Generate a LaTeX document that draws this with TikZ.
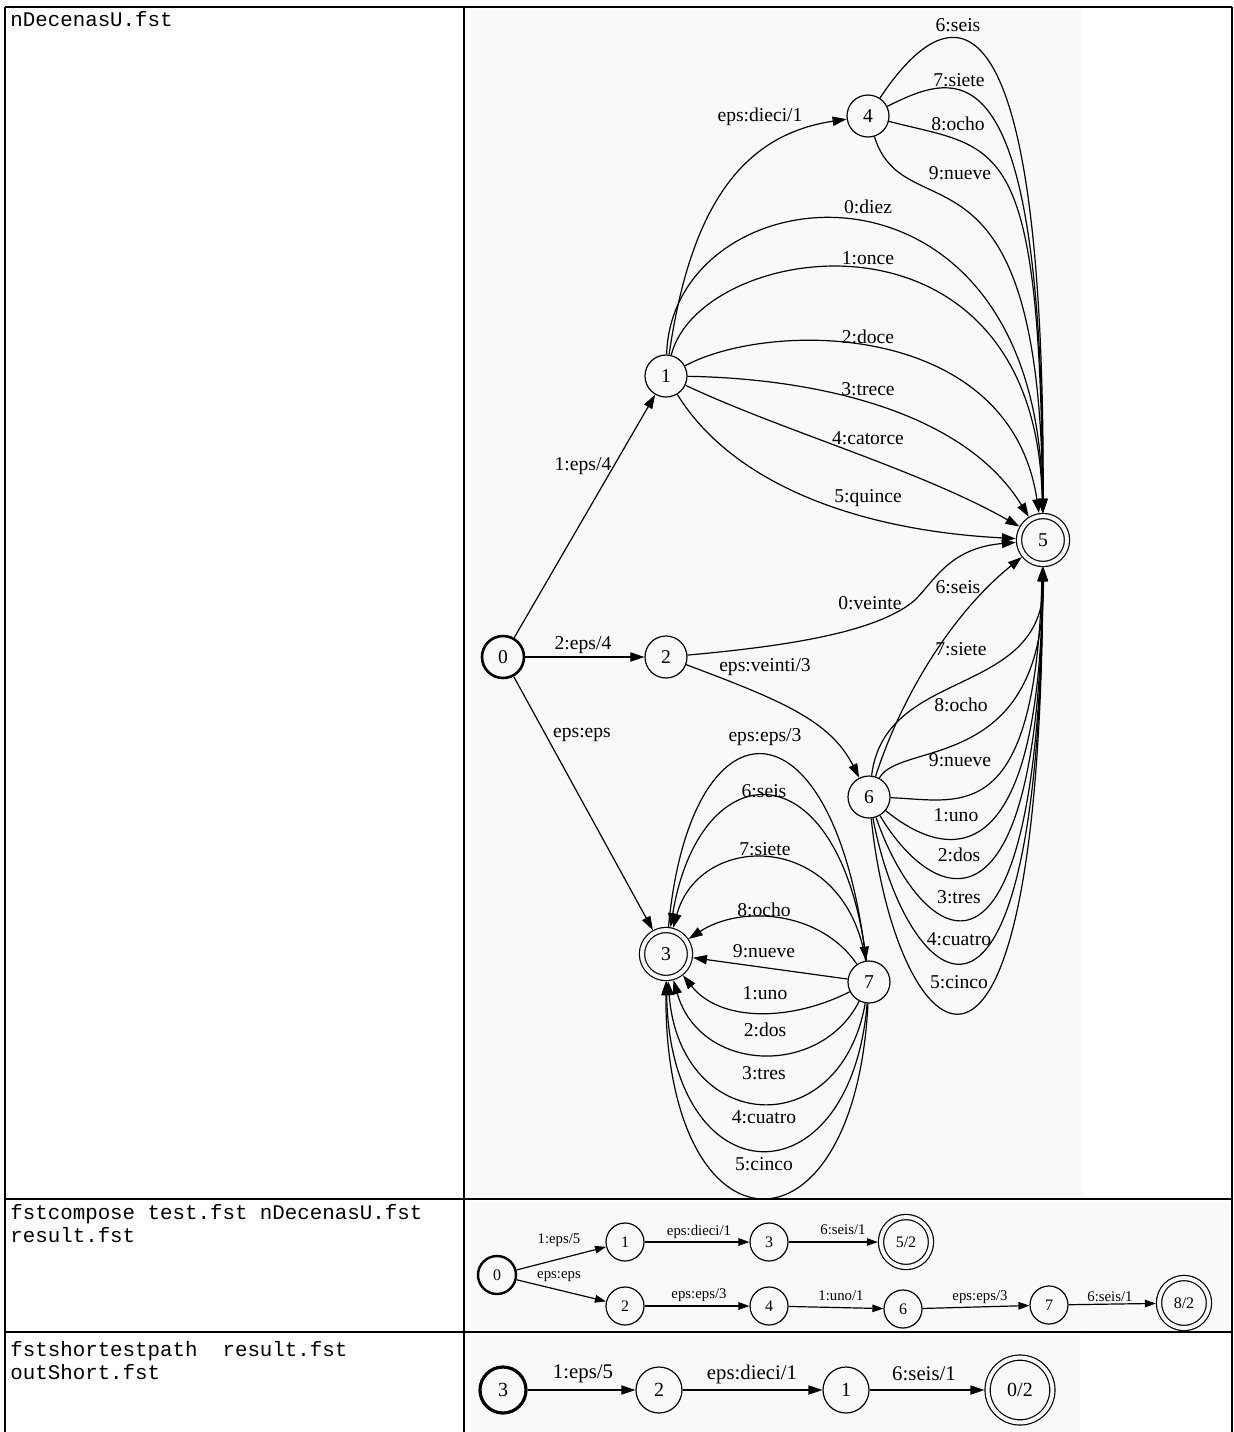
\documentclass[tikz,border=0pt]{standalone}
\usepackage{fontspec}
\setmainfont{Liberation Serif}
\setmonofont{Liberation Mono}
\usetikzlibrary{arrows.meta}

\definecolor{imgbg}{RGB}{248,250,248}

\tikzset{
  state/.style={circle, draw, line width=0.6pt, minimum size=21pt, inner sep=0pt, font=\fontsize{9.8}{10}\selectfont},
  start/.style={state, line width=1.3pt},
  accept/.style={state, double=imgbg, double distance=2pt, minimum size=24pt, outer sep=1.6pt},
  edge/.style={-{Triangle[length=7pt,width=4.6pt]}, line width=0.6pt},
  lab/.style={inner sep=0pt, font=\fontsize{9.8}{10}\selectfont},
  cmd/.style={anchor=base west, inner sep=0pt, font=\fontsize{10.4}{11.5}\selectfont\ttfamily},
}

\begin{document}
\begin{tikzpicture}[x=0.5pt, y=-0.5pt]
        \useasboundingbox (0,0) rectangle (1234,1432);

        % picture panels
        \fill [imgbg] (471,10) rectangle (1082,1196);
        \fill [imgbg] (471,1202) rectangle (1229,1330);
        \fill [imgbg] (471,1335) rectangle (1080,1432);

        % table
        \draw [line width=1pt] (5,7) -- (1232,7);
        \draw [line width=1pt] (5,1199) -- (1232,1199);
        \draw [line width=1pt] (5,1332) -- (1232,1332);
        \draw [line width=1pt] (5,7) -- (5,1432);
        \draw [line width=1pt] (1232,7) -- (1232,1432);
        \draw [line width=0.6pt] (464,7) -- (464,1432);

        \node [cmd] (f1) at (10,26) {nDecenasU.fst};
        \node [cmd] (f2) at (10,1219) {fstcompose test.fst nDecenasU.fst};
        \node [cmd] (f3) at (10,1242) {result.fst};
        \node [cmd] (f4) at (10,1356) {fstshortestpath\ \ result.fst};
        \node [cmd] (f5) at (10,1379) {outShort.fst};

        % nDecenasU.fst
        \node [start]  (a0) at (503,657) {0};
        \node [state]  (a1) at (666,376) {1};
        \node [state]  (a2) at (666,657) {2};
        \node [accept] (a3) at (666,954) {3};
        \node [state]  (a4) at (868,116) {4};
        \node [accept] (a5) at (1043,540) {5};
        \node [state]  (a6) at (869,797) {6};
        \node [state]  (a7) at (869,982) {7};

        \draw [edge] (a0) -- (a1);
        \draw [edge] (a0) -- (a2);
        \draw [edge] (a0) -- (a3);
        \draw [edge] (a1) .. controls (690,210) and (740,135) .. (a4);
        \draw [edge] (a1) .. controls (672,170) and (1038,130) .. (a5);
        \draw [edge] (a1) .. controls (700,240) and (1036,190) .. (a5);
        \draw [edge] (a1) .. controls (770,320) and (1010,320) .. (a5);
        \draw [edge] (a1) .. controls (800,378) and (960,405) .. (a5);
        \draw [edge] (a1) .. controls (780,430) and (920,470) .. (a5);
        \draw [edge] (a1) .. controls (730,480) and (850,530) .. (a5);
        \draw [edge] (a4) .. controls (955,-15) and (1045,-15) .. (a5);
        \draw [edge] (a4) .. controls (960,70) and (1043,40) .. (a5);
        \draw [edge] (a4) .. controls (1000,150) and (1040,130) .. (a5);
        \draw [edge] (a4) .. controls (905,235) and (1040,120) .. (a5);
        \draw [edge] (a2) .. controls (800,645) and (880,630) .. (915,600)
                          .. controls (935,580) and (950,548) .. (a5);
        \draw [edge] (a2) .. controls (780,700) and (830,720) .. (a6);
        \draw [edge] (a6) .. controls (900,700) and (950,615) .. (a5);
        \draw [edge] (a6) .. controls (885,665) and (1045,700) .. (a5);
        \draw [edge] (a6) .. controls (900,740) and (1045,775) .. (a5);
        \draw [edge] (a6) .. controls (960,800) and (1035,830) .. (a5);
        \draw [edge] (a6) .. controls (940,855) and (1040,890) .. (a5);
        \draw [edge] (a6) .. controls (930,900) and (1040,960) .. (a5);
        \draw [edge] (a6) .. controls (920,945) and (1040,1035) .. (a5);
        \draw [edge] (a6) .. controls (905,990) and (1040,1110) .. (a5);
        \draw [edge] (a6) .. controls (895,1050) and (1040,1185) .. (a5);
        \draw [edge] (a3) .. controls (690,695) and (830,690) .. (a7);
        \draw [edge] (a7) .. controls (840,745) and (700,750) .. (a3);
        \draw [edge] (a7) .. controls (845,830) and (700,830) .. (a3);
        \draw [edge] (a7) .. controls (820,910) and (740,905) .. (a3);
        \draw [edge] (a7) -- (a3);
        \draw [edge] (a7) .. controls (790,1022) and (720,1022) .. (a3);
        \draw [edge] (a7) .. controls (820,1078) and (700,1073) .. (a3);
        \draw [edge] (a7) .. controls (840,1145) and (680,1135) .. (a3);
        \draw [edge] (a7) .. controls (850,1205) and (670,1200) .. (a3);
        \draw [edge] (a7) .. controls (855,1268) and (665,1263) .. (a3);

        \node [lab] (la1) at (583,466) {1:eps/4};
        \node [lab] (la2) at (583,645) {2:eps/4};
        \node [lab] (la3) at (582,735) {eps:eps};
        \node [lab] (la4) at (760,117) {eps:dieci/1};
        \node [lab] (la5) at (868,207) {0:diez};
        \node [lab] (la6) at (868,258) {1:once};
        \node [lab] (la7) at (868,337) {2:doce};
        \node [lab] (la8) at (868,389) {3:trece};
        \node [lab] (la9) at (868,438) {4:catorce};
        \node [lab] (la10) at (868,498) {5:quince};
        \node [lab] (la11) at (958,25) {6:seis};
        \node [lab] (la12) at (959,80) {7:siete};
        \node [lab] (la13) at (958,124) {8:ocho};
        \node [lab] (la14) at (960,173) {9:nueve};
        \node [lab] (la15) at (870,603) {0:veinte};
        \node [lab] (la16) at (765,667) {eps:veinti/3};
        \node [lab] (la17) at (958,587) {6:seis};
        \node [lab] (la18) at (961,649) {7:siete};
        \node [lab] (la19) at (961,705) {8:ocho};
        \node [lab] (la20) at (960,760) {9:nueve};
        \node [lab] (la21) at (956,815) {1:uno};
        \node [lab] (la22) at (959,855) {2:dos};
        \node [lab] (la23) at (959,897) {3:tres};
        \node [lab] (la24) at (959,939) {4:cuatro};
        \node [lab] (la25) at (959,982) {5:cinco};
        \node [lab] (la26) at (765,737) {eps:eps/3};
        \node [lab] (la27) at (764,791) {6:seis};
        \node [lab] (la28) at (765,849) {7:siete};
        \node [lab] (la29) at (764,910) {8:ocho};
        \node [lab] (la30) at (764,951) {9:nueve};
        \node [lab] (la31) at (765,993) {1:uno};
        \node [lab] (la32) at (765,1030) {2:dos};
        \node [lab] (la33) at (764,1073) {3:tres};
        \node [lab] (la34) at (764,1117) {4:cuatro};
        \node [lab] (la35) at (764,1164) {5:cinco};

        % result.fst
        \begin{scope}[state/.append style={minimum size=19pt, font=\fontsize{8}{9}\selectfont},
                      start/.append style={line width=1.2pt},
                      accept/.append style={minimum size=25pt},
                      lab/.append style={font=\fontsize{7.4}{8}\selectfont},
                      edge/.append style={-{Triangle[length=5.5pt,width=3.8pt]}}]
        \node [start]  (b0) at (497,1275) {0};
        \node [state]  (b1) at (625,1242) {1};
        \node [state]  (b3) at (769,1242) {3};
        \node [accept] (b5) at (906,1242) {5/2};
        \node [state]  (b2) at (625,1306) {2};
        \node [state]  (b4) at (769,1306) {4};
        \node [state]  (b6) at (903,1309) {6};
        \node [state]  (b7) at (1049,1305) {7};
        \node [accept] (b8) at (1184,1303) {8/2};

        \draw [edge] (b0) -- (b1);
        \draw [edge] (b0) -- (b2);
        \draw [edge] (b1) -- (b3);
        \draw [edge] (b3) -- (b5);
        \draw [edge] (b2) -- (b4);
        \draw [edge] (b4) -- (b6);
        \draw [edge] (b6) -- (b7);
        \draw [edge] (b7) -- (b8);

        \node [lab] (lb1) at (559,1240) {1:eps/5};
        \node [lab] (lb2) at (559,1277) {eps:eps};
        \node [lab] (lb3) at (699,1232) {eps:dieci/1};
        \node [lab] (lb4) at (843,1230) {6:seis/1};
        \node [lab] (lb5) at (699,1295) {eps:eps/3};
        \node [lab] (lb6) at (841,1296) {1:uno/1};
        \node [lab] (lb7) at (980,1297) {eps:eps/3};
        \node [lab] (lb8) at (1110,1297) {6:seis/1};
        \end{scope}

        % outShort.fst
        \begin{scope}[state/.append style={minimum size=23pt, font=\fontsize{10}{11}\selectfont},
                      start/.append style={line width=1.6pt},
                      accept/.append style={minimum size=32.4pt},
                      lab/.append style={font=\fontsize{10.4}{11}\selectfont}]
        \node [start]  (c3) at (503,1390) {3};
        \node [state]  (c2) at (659,1390) {2};
        \node [state]  (c1) at (846,1390) {1};
        \node [accept] (c0) at (1020,1390) {0/2};

        \draw [edge] (c3) -- (c2);
        \draw [edge] (c2) -- (c1);
        \draw [edge] (c1) -- (c0);

        \node [lab] (lc1) at (583,1374) {1:eps/5};
        \node [lab] (lc2) at (752,1374) {eps:dieci/1};
        \node [lab] (lc3) at (924,1374) {6:seis/1};
        \end{scope}
\end{tikzpicture}
\end{document}
